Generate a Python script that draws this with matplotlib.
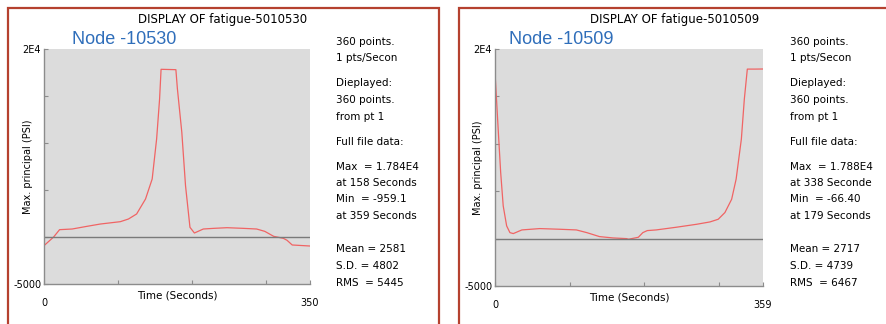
import matplotlib.pyplot as plt
from matplotlib.patches import Rectangle

# Node -10530 (fatigue-5010530)
time_530 = [0, 13, 21, 38, 58, 76, 103, 114, 125, 137, 146, 152, 156, 158, 178, 180,
            186, 191, 197, 203, 215, 229, 247, 269, 287, 298, 310, 323, 328, 335, 359]
psi_530 = [-922, 0, 780, 850, 1135, 1380, 1630, 1915, 2450, 4040, 6170, 10430, 14680, 17840, 17800, 15800,
           11130, 5460, 1030, 425, 850, 920, 990, 920, 850, 600, 70, -140, -350, -850, -959]

# Node -10509 (fatigue-5010509)
time_509 = [0, 1, 4.5, 7.6, 11, 15.6, 20, 24.5, 36, 60, 87, 109, 123, 140, 158, 176, 179, 192,
            198, 204, 216, 243, 270, 288, 299, 308, 317, 323, 330, 334, 338, 348, 359]
psi_509 = [17535, 16130, 11200, 6970, 3450, 1340, 630, 530, 915, 1056, 985, 915, 630, 210, 70, 0, -66, 140,
           630, 845, 915, 1200, 1510, 1760, 2040, 2750, 4150, 6270, 10490, 14720, 17880, 17880, 17890]

titles = ["DISPLAY OF fatigue-5010530", "DISPLAY OF fatigue-5010509"]
nodes = ["Node -10530", "Node -10509"]
end_labels = ["350", "359"]
stats_530 = ["360 points.", "1 pts/Secon", "Dieplayed:", "360 points.", "from pt 1", "Full file data:",
             "Max  = 1.784E4", "at 158 Seconds", "Min  = -959.1", "at 359 Seconds",
             "Mean = 2581", "S.D. = 4802", "RMS  = 5445"]
stats_509 = ["360 points.", "1 pts/Secon", "Dieplayed:", "360 points.", "from pt 1", "Full file data:",
             "Max  = 1.788E4", "at 338 Seconde", "Min  = -66.40", "at 179 Seconds",
             "Mean = 2717", "S.D. = 4739", "RMS  = 6467"]

W, H = 886, 324
fig = plt.figure(figsize=(W / 100, H / 100), dpi=100)
plt.rcParams['font.family'] = ['DejaVu Sans']

def fx(px):
    return px / W

def fy(py):
    return 1 - py / H

# panel borders
for x0, x1 in [(8, 439), (459, 892)]:
    fig.patches.append(Rectangle((fx(x0), fy(340)), fx(x1 - x0), (332) / H, transform=fig.transFigure,
                                 fill=False, edgecolor="#b5412f", linewidth=1.6))

panels = [
    # axes box (left, right, top, bottom in px), data, stats x, title centre, node x, ylabel x, xlabel y
    ((44, 310, 49, 284), time_530, psi_530, 336, stats_530, 223, 72, 28, 296),
    ((495, 763, 49, 286), time_509, psi_509, 790, stats_509, 675, 509, 478, 298),
]
line_ys = [42, 58, 83, 100, 117, 142, 167, 183, 199, 216, 249, 266, 283]

for i, (box, t, p, tx, stats, title_x, node_x, ylab_x, xlab_y) in enumerate(panels):
    l, r, top, bot = box
    ax = fig.add_axes([fx(l), fy(bot), fx(r - l), (bot - top) / H])
    ax.set_facecolor("#dcdcdc")
    ax.plot(t, p, color="#f06464", linewidth=0.9)
    ax.axhline(0, color="#7a7a7a", linewidth=1.0)
    ax.set_xlim(0, 359)
    ax.set_ylim(-5000, 20000)
    for s in ["top", "right"]:
        ax.spines[s].set_visible(False)
    for s in ["left", "bottom"]:
        ax.spines[s].set_color("#8c8c8c")
        ax.spines[s].set_linewidth(1.0)
    ax.set_xticks([0, 100, 200, 300, 359])
    ax.set_xticklabels(["0", "", "", "", end_labels[i]])
    ax.set_yticks([-5000, 0, 5000, 10000, 15000, 20000])
    ax.set_yticklabels(["-5000", "", "", "", "", "2E4"])
    ax.tick_params(direction="in", length=3, color="#8c8c8c", labelsize=7, pad=2)
    ax.tick_params(axis="x", pad=10)
    ax.set_xlabel("Time (Seconds)", fontsize=7.5)
    ax.set_ylabel("Max. principal (PSI)", fontsize=7)
    ax.xaxis.set_label_coords(((l + r) / 2 - l) / (r - l), (bot - xlab_y) / (bot - top), transform=ax.transAxes)
    ax.yaxis.set_label_coords((ylab_x - l) / (r - l), 0.5, transform=ax.transAxes)
    ax.xaxis.label.set_va("center")
    ax.yaxis.label.set_va("center")

    fig.text(fx(title_x), fy(20), titles[i], fontsize=8.5, ha="center", va="center")
    fig.text(fx(node_x), fy(40), nodes[i], fontsize=13, color="#2f6eba",
             family="Liberation Sans", ha="left", va="center")
    for ly, s in zip(line_ys, stats):
        fig.text(fx(tx), fy(ly), s, fontsize=7.5, ha="left", va="center")

fig.savefig("out.png", dpi=100)
